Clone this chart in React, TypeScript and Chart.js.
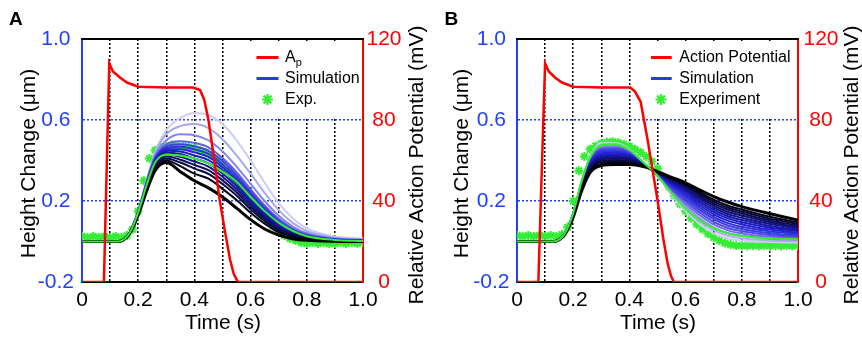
import React, { useEffect, useRef } from 'react';
import { Chart, registerables } from 'chart.js';

Chart.register(...registerables);

// ---------- data ----------
const TIME = [0, 0.13, 0.17, 0.2, 0.23, 0.26, 0.3, 0.35, 0.4, 0.45, 0.5, 0.55, 0.6, 0.65, 0.7, 0.75, 0.8, 0.9, 1.0];

const X_TICKS = [0, 0.1, 0.2, 0.3, 0.4, 0.5, 0.6, 0.7, 0.8, 0.9, 1.0];
const X_LABELS = ['0', '', '0.2', '', '0.4', '', '0.6', '', '0.8', '', '1.0'];
const Y_LEFT_TICKS = [-0.2, 0.2, 0.6, 1.0];
const Y_LEFT_LABELS = ['-0.2', '0.2', '0.6', '1.0'];
const Y_RIGHT_TICKS = [0, 40, 80, 120];
const Y_RIGHT_LABELS = ['0', '40', '80', '120'];

// Action potential (mV) for panel A
const AP_A_TIME = [0, 0.078, 0.097, 0.11, 0.135, 0.16, 0.2, 0.3, 0.395, 0.42, 0.435, 0.45, 0.47, 0.49, 0.51, 0.527, 0.54, 0.555, 1.0];
const AP_A = [0, 0, 108, 104, 101, 98.5, 96.4, 96, 96, 94.8, 90, 80, 61, 40.5, 24, 11, 4, 0, 0];
// Action potential (mV) for panel B
const AP_B_TIME = [0, 0.076, 0.1, 0.113, 0.135, 0.16, 0.2, 0.3, 0.403, 0.42, 0.44, 0.465, 0.5, 0.52, 0.536, 0.548, 0.558, 1.0];
const AP_B = [0, 0, 108, 104, 101, 98.5, 96.4, 96, 96, 94, 89, 70, 40.5, 22, 9.2, 3, 0, 0];

// Simulation curves, panel A (lightest first, black last)
const SIM_A1 = [0, 0, 0.045, 0.15, 0.3, 0.44, 0.55, 0.61, 0.635, 0.625, 0.58, 0.5, 0.4, 0.29, 0.19, 0.115, 0.065, 0.025, 0.015];
const SIM_A2 = [0, 0, 0.045, 0.15, 0.3, 0.435, 0.53, 0.57, 0.58, 0.56, 0.505, 0.425, 0.335, 0.24, 0.155, 0.092, 0.052, 0.019, 0.011];
const SIM_A3 = [0, 0, 0.045, 0.15, 0.295, 0.425, 0.5, 0.53, 0.525, 0.5, 0.445, 0.37, 0.285, 0.2, 0.127, 0.074, 0.041, 0.015, 0.008];
const SIM_A4 = [0, 0, 0.045, 0.149, 0.292, 0.415, 0.48, 0.495, 0.487, 0.465, 0.412, 0.342, 0.258, 0.178, 0.112, 0.064, 0.035, 0.012, 0.006];
const SIM_A5 = [0, 0, 0.044, 0.148, 0.288, 0.41, 0.47, 0.48, 0.47, 0.448, 0.397, 0.328, 0.246, 0.168, 0.104, 0.059, 0.032, 0.011, 0.005];
const SIM_A6 = [0, 0, 0.044, 0.147, 0.285, 0.405, 0.462, 0.468, 0.455, 0.433, 0.382, 0.315, 0.235, 0.159, 0.097, 0.054, 0.029, 0.01, 0.005];
const SIM_A7 = [0, 0, 0.044, 0.146, 0.282, 0.4, 0.455, 0.455, 0.44, 0.418, 0.367, 0.301, 0.223, 0.15, 0.09, 0.05, 0.027, 0.009, 0.004];
const SIM_A8 = [0, 0, 0.043, 0.145, 0.279, 0.395, 0.448, 0.444, 0.425, 0.402, 0.352, 0.287, 0.211, 0.141, 0.083, 0.046, 0.025, 0.008, 0.004];
const SIM_A9 = [0, 0, 0.043, 0.143, 0.276, 0.39, 0.44, 0.432, 0.41, 0.386, 0.336, 0.273, 0.199, 0.132, 0.076, 0.042, 0.022, 0.007, 0.003];
const SIM_A10 = [0, 0, 0.042, 0.141, 0.272, 0.385, 0.43, 0.418, 0.395, 0.37, 0.32, 0.258, 0.186, 0.122, 0.069, 0.038, 0.02, 0.006, 0.003];
const SIM_A11 = [0, 0, 0.042, 0.139, 0.268, 0.378, 0.42, 0.404, 0.378, 0.352, 0.302, 0.243, 0.173, 0.112, 0.062, 0.034, 0.018, 0.005, 0.002];
const SIM_A12 = [0, 0, 0.041, 0.137, 0.264, 0.37, 0.41, 0.39, 0.36, 0.334, 0.284, 0.227, 0.159, 0.101, 0.054, 0.029, 0.015, 0.004, 0.002];
const SIM_A13 = [0, 0, 0.041, 0.134, 0.258, 0.36, 0.4, 0.372, 0.335, 0.31, 0.26, 0.205, 0.142, 0.088, 0.046, 0.024, 0.012, 0.003, 0.001];
const SIM_A14 = [0, 0, 0.04, 0.13, 0.25, 0.35, 0.39, 0.345, 0.3, 0.265, 0.22, 0.165, 0.108, 0.062, 0.032, 0.014, 0.006, 0.001, 0];
const SIM_A = [SIM_A1, SIM_A2, SIM_A3, SIM_A4, SIM_A5, SIM_A6, SIM_A7, SIM_A8, SIM_A9, SIM_A10, SIM_A11, SIM_A12, SIM_A13, SIM_A14];
const GREEN_A = [0, 0, 0.043, 0.145, 0.278, 0.39, 0.428, 0.425, 0.41, 0.385, 0.345, 0.295, 0.22, 0.15, 0.093, 0.052, 0.026, 0.008, 0.003];

// Simulation curves, panel B (lightest first, black last)
const SIM_B1 = [0, 0, 0.04, 0.14, 0.3, 0.42, 0.488, 0.486, 0.455, 0.39, 0.32, 0.23, 0.15, 0.085, 0.04, 0.015, 0.005, -0.003, -0.005];
const SIM_B2 = [0, 0, 0.04, 0.14, 0.297, 0.415, 0.478, 0.48, 0.451, 0.389, 0.323, 0.238, 0.163, 0.1, 0.055, 0.028, 0.016, 0.005, 0.002];
const SIM_B3 = [0, 0, 0.04, 0.139, 0.294, 0.41, 0.47, 0.473, 0.447, 0.388, 0.325, 0.246, 0.176, 0.115, 0.07, 0.042, 0.028, 0.014, 0.009];
const SIM_B4 = [0, 0, 0.04, 0.138, 0.29, 0.405, 0.462, 0.466, 0.443, 0.387, 0.327, 0.254, 0.188, 0.13, 0.084, 0.055, 0.04, 0.023, 0.016];
const SIM_B5 = [0, 0, 0.039, 0.137, 0.287, 0.4, 0.455, 0.459, 0.439, 0.386, 0.329, 0.261, 0.2, 0.143, 0.097, 0.067, 0.051, 0.032, 0.023];
const SIM_B6 = [0, 0, 0.039, 0.136, 0.284, 0.395, 0.448, 0.452, 0.435, 0.385, 0.331, 0.268, 0.211, 0.156, 0.11, 0.079, 0.062, 0.041, 0.03];
const SIM_B7 = [0, 0, 0.039, 0.135, 0.281, 0.39, 0.441, 0.445, 0.43, 0.384, 0.333, 0.275, 0.222, 0.168, 0.122, 0.091, 0.073, 0.05, 0.037];
const SIM_B8 = [0, 0, 0.038, 0.134, 0.278, 0.385, 0.434, 0.438, 0.426, 0.383, 0.335, 0.281, 0.232, 0.179, 0.134, 0.103, 0.084, 0.059, 0.044];
const SIM_B9 = [0, 0, 0.038, 0.133, 0.275, 0.38, 0.427, 0.431, 0.421, 0.382, 0.337, 0.287, 0.242, 0.19, 0.145, 0.114, 0.095, 0.068, 0.051];
const SIM_B10 = [0, 0, 0.038, 0.132, 0.272, 0.375, 0.42, 0.424, 0.416, 0.381, 0.338, 0.293, 0.251, 0.2, 0.156, 0.125, 0.106, 0.077, 0.058];
const SIM_B11 = [0, 0, 0.037, 0.13, 0.269, 0.37, 0.413, 0.417, 0.411, 0.38, 0.339, 0.298, 0.259, 0.21, 0.167, 0.136, 0.117, 0.086, 0.065];
const SIM_B12 = [0, 0, 0.037, 0.129, 0.266, 0.365, 0.406, 0.41, 0.405, 0.378, 0.34, 0.303, 0.267, 0.219, 0.177, 0.147, 0.128, 0.095, 0.072];
const SIM_B13 = [0, 0, 0.037, 0.127, 0.263, 0.36, 0.399, 0.403, 0.399, 0.376, 0.341, 0.307, 0.274, 0.228, 0.187, 0.158, 0.138, 0.104, 0.079];
const SIM_B14 = [0, 0, 0.036, 0.125, 0.26, 0.355, 0.392, 0.396, 0.393, 0.374, 0.342, 0.311, 0.28, 0.236, 0.197, 0.168, 0.148, 0.113, 0.086];
const SIM_B15 = [0, 0, 0.036, 0.123, 0.256, 0.348, 0.384, 0.389, 0.387, 0.372, 0.343, 0.314, 0.285, 0.244, 0.207, 0.178, 0.158, 0.122, 0.094];
const SIM_B16 = [0, 0, 0.035, 0.12, 0.25, 0.34, 0.375, 0.38, 0.38, 0.37, 0.345, 0.317, 0.29, 0.255, 0.222, 0.195, 0.172, 0.137, 0.106];
const SIM_B = [SIM_B1, SIM_B2, SIM_B3, SIM_B4, SIM_B5, SIM_B6, SIM_B7, SIM_B8, SIM_B9, SIM_B10, SIM_B11, SIM_B12, SIM_B13, SIM_B14, SIM_B15, SIM_B16];
const GREEN_B = [0, 0, 0.04, 0.14, 0.298, 0.415, 0.475, 0.48, 0.452, 0.39, 0.325, 0.24, 0.16, 0.105, 0.065, 0.04, 0.027, 0.015, 0.011];

// Experiment markers (every 0.02 s)
const EXP_TIME = [0, 0.02, 0.04, 0.06, 0.08, 0.1, 0.12, 0.14, 0.16, 0.18, 0.2, 0.22, 0.24, 0.26, 0.28, 0.3, 0.32, 0.34, 0.36, 0.38, 0.4, 0.42, 0.44, 0.46, 0.48, 0.5, 0.52, 0.54, 0.56, 0.58, 0.6, 0.62, 0.64, 0.66, 0.68, 0.7, 0.72, 0.74, 0.76, 0.78, 0.8, 0.82, 0.84, 0.86, 0.88, 0.9, 0.92, 0.94, 0.96, 0.98, 1.0];
const EXP_A = [0.025, 0.02, 0.025, 0.02, 0.025, 0.02, 0.025, 0.02, 0.03, 0.06, 0.15, 0.3, 0.41, 0.45, 0.465, 0.47, 0.475, 0.47, 0.47, 0.465, 0.46, 0.45, 0.44, 0.425, 0.405, 0.38, 0.35, 0.315, 0.28, 0.24, 0.2, 0.165, 0.13, 0.1, 0.075, 0.05, 0.03, 0.015, 0.005, -0.005, -0.01, -0.005, -0.01, -0.005, -0.01, -0.01, -0.005, -0.01, -0.005, -0.01, -0.005];
const EXP_B = [0.03, 0.025, 0.03, 0.025, 0.03, 0.025, 0.03, 0.025, 0.035, 0.07, 0.2, 0.35, 0.42, 0.455, 0.472, 0.483, 0.49, 0.493, 0.488, 0.48, 0.47, 0.455, 0.44, 0.42, 0.395, 0.36, 0.315, 0.27, 0.225, 0.185, 0.15, 0.115, 0.085, 0.06, 0.038, 0.02, 0.005, -0.008, -0.015, -0.02, -0.02, -0.022, -0.02, -0.022, -0.02, -0.022, -0.02, -0.022, -0.02, -0.022, -0.02];

const LEGEND_A = ['A', 'Simulation', 'Exp.'];
const LEGEND_B = ['Action Potential', 'Simulation', 'Experiment'];

// ---------- styles ----------
const BLUE = '#2040ff';
const RED = '#ff0000';
const GREEN = '#33ee33';
const FONT = "'Liberation Sans', Arial, Helvetica, sans-serif";
const W = 431;
const H = 337;

function simColor(i: number, n: number): string {
  const f = n > 1 ? i / (n - 1) : 0;
  const stops = [
    [0, 205, 205, 243],
    [0.28, 70, 70, 228],
    [0.5, 30, 30, 210],
    [1, 0, 0, 0],
  ];
  for (let k = 0; k < stops.length - 1; k++) {
    const a = stops[k];
    const b = stops[k + 1];
    if (f <= b[0] + 1e-9) {
      const g = (f - a[0]) / (b[0] - a[0]);
      const c = [1, 2, 3].map((j) => Math.round(a[j] + (b[j] - a[j]) * g));
      return `rgb(${c[0]},${c[1]},${c[2]})`;
    }
  }
  return '#000';
}

interface PanelSpec {
  letter: string;
  letterX: number;
  sims: number[][];
  green: number[];
  exp: number[];
  apT: number[];
  apV: number[];
  legend: string[];
  subscriptFirst: boolean;
  leftW: number;
  rightW: number;
  leftPad: number;
  rightPad: number;
  leftTitleX: number;
  rightTitleX: number;
  boxX: number;
  boxW: number;
  lineX0: number;
  lineX1: number;
  textX: number;
  starX: number;
}

function pts(xs: number[], ys: number[]) {
  return xs.map((x, i) => ({ x, y: ys[i] }));
}

function drawStar(ctx: CanvasRenderingContext2D, x: number, y: number, r: number) {
  ctx.beginPath();
  for (let k = 0; k < 4; k++) {
    const a = (k * Math.PI) / 4;
    ctx.moveTo(x + Math.cos(a) * r, y + Math.sin(a) * r);
    ctx.lineTo(x - Math.cos(a) * r, y - Math.sin(a) * r);
  }
  ctx.stroke();
}

function makeDecor(spec: PanelSpec) {
  return {
    id: 'decor' + spec.letter,
    beforeDatasetsDraw(chart: any) {
      const ctx: CanvasRenderingContext2D = chart.ctx;
      ctx.save();
      ctx.fillStyle = '#ffffff';
      ctx.fillRect(spec.boxX, 42, spec.boxW, 75);
      ctx.restore();
    },
    afterDatasetsDraw(chart: any) {
      const ctx: CanvasRenderingContext2D = chart.ctx;
      const rows = [57.5, 78.5, 99.5];
      ctx.save();
      ctx.lineCap = 'butt';
      ctx.strokeStyle = RED;
      ctx.lineWidth = 3;
      ctx.beginPath();
      ctx.moveTo(spec.lineX0, rows[0]);
      ctx.lineTo(spec.lineX1, rows[0]);
      ctx.stroke();
      ctx.strokeStyle = '#1f3de8';
      ctx.beginPath();
      ctx.moveTo(spec.lineX0, rows[1]);
      ctx.lineTo(spec.lineX1, rows[1]);
      ctx.stroke();
      ctx.strokeStyle = GREEN;
      ctx.lineWidth = 2.2;
      drawStar(ctx, spec.starX, rows[2], 5.5);
      ctx.fillStyle = '#000';
      ctx.textBaseline = 'middle';
      ctx.textAlign = 'left';
      ctx.font = `16px ${FONT}`;
      ctx.fillText(spec.legend[0], spec.textX, rows[0]);
      if (spec.subscriptFirst) {
        const w = ctx.measureText(spec.legend[0]).width;
        ctx.font = `11px ${FONT}`;
        ctx.fillText('p', spec.textX + w, rows[0] + 5);
        ctx.font = `16px ${FONT}`;
      }
      ctx.fillText(spec.legend[1], spec.textX, rows[1]);
      ctx.fillText(spec.legend[2], spec.textX, rows[2]);
      ctx.restore();
    },
    afterDraw(chart: any) {
      const ctx: CanvasRenderingContext2D = chart.ctx;
      const ca = chart.chartArea;
      ctx.save();
      ctx.strokeStyle = '#000';
      ctx.lineWidth = 2;
      ctx.beginPath();
      ctx.moveTo(ca.left - 1, ca.top);
      ctx.lineTo(ca.right + 1, ca.top);
      ctx.stroke();
      ctx.fillStyle = '#000';
      ctx.textAlign = 'left';
      ctx.textBaseline = 'alphabetic';
      ctx.font = `bold 19px ${FONT}`;
      ctx.fillText(spec.letter, spec.letterX, 24.5);
      ctx.font = `21px ${FONT}`;
      ctx.textAlign = 'center';
      ctx.fillText('Time (s)', (ca.left + ca.right) / 2 + 0.5, 329);
      ctx.save();
      ctx.translate(spec.leftTitleX, 163.5);
      ctx.rotate(-Math.PI / 2);
      ctx.fillText('Height Change (μm)', 0, 0);
      ctx.restore();
      ctx.save();
      ctx.translate(spec.rightTitleX, 165);
      ctx.rotate(-Math.PI / 2);
      ctx.fillText('Relative Action Potential (mV)', 0, 0);
      ctx.restore();
      ctx.restore();
    },
  };
}

function buildConfig(spec: PanelSpec): any {
  const n = spec.sims.length;
  const datasets: any[] = [];
  datasets.push({
    label: 'AP',
    data: pts(spec.apT, spec.apV),
    yAxisID: 'y2',
    borderColor: RED,
    borderWidth: 2.5,
    pointRadius: 0,
    tension: 0,
    order: 0,
  });
  datasets.push({
    label: 'Fit',
    data: pts(TIME, spec.green),
    yAxisID: 'y',
    borderColor: GREEN,
    borderWidth: 2,
    pointRadius: 0,
    cubicInterpolationMode: 'monotone',
    order: 1,
  });
  spec.sims.forEach((s, i) => {
    datasets.push({
      label: 'Sim ' + (i + 1),
      data: pts(TIME, s),
      yAxisID: 'y',
      borderColor: simColor(i, n),
      borderWidth: i === n - 1 ? 3 : 2,
      pointRadius: 0,
      cubicInterpolationMode: 'monotone',
      order: 2 + (n - 1 - i),
    });
  });
  datasets.push({
    label: 'Experiment',
    data: pts(EXP_TIME, spec.exp),
    yAxisID: 'y',
    showLine: false,
    pointStyle: 'star',
    pointRadius: 4.5,
    pointBorderWidth: 2,
    pointBorderColor: GREEN,
    pointBackgroundColor: GREEN,
    order: 200,
  });

  const tickFont = { size: 21, family: FONT };
  const clear = 'rgba(0,0,0,0)';

  return {
    type: 'line',
    data: { datasets },
    options: {
      responsive: false,
      animation: false,
      devicePixelRatio: 1,
      layout: { padding: { top: 39, left: 0, right: 0, bottom: 0 } },
      plugins: { legend: { display: false }, tooltip: { enabled: false } },
      scales: {
        x: {
          type: 'linear',
          min: 0,
          max: 1,
          afterBuildTicks: (s: any) => {
            s.ticks = X_TICKS.map((v) => ({ value: v }));
          },
          afterFit: (s: any) => {
            s.height = 55;
          },
          ticks: {
            autoSkip: false,
            maxRotation: 0,
            minRotation: 0,
            padding: 6,
            color: '#000',
            font: tickFont,
            callback: (_v: any, i: number) => X_LABELS[i],
          },
          grid: {
            drawTicks: false,
            lineWidth: 1.5,
            color: (c: any) => (c.index === 0 || c.index === X_TICKS.length - 1 ? clear : '#000'),
          },
          border: { display: true, color: '#000', width: 2, dash: [2, 2] },
        },
        y: {
          type: 'linear',
          position: 'left',
          min: -0.2,
          max: 1.0,
          afterBuildTicks: (s: any) => {
            s.ticks = Y_LEFT_TICKS.map((v) => ({ value: v }));
          },
          afterFit: (s: any) => {
            s.width = spec.leftW;
          },
          ticks: {
            crossAlign: 'center',
            padding: spec.leftPad,
            color: BLUE,
            font: tickFont,
            callback: (_v: any, i: number) => Y_LEFT_LABELS[i],
          },
          grid: {
            drawTicks: false,
            lineWidth: 1.5,
            color: (c: any) => (c.index === 0 || c.index === Y_LEFT_TICKS.length - 1 ? clear : BLUE),
          },
          border: { display: true, color: BLUE, width: 2, dash: [2, 2] },
        },
        y2: {
          type: 'linear',
          position: 'right',
          min: 0,
          max: 120,
          afterBuildTicks: (s: any) => {
            s.ticks = Y_RIGHT_TICKS.map((v) => ({ value: v }));
          },
          afterFit: (s: any) => {
            s.width = spec.rightW;
          },
          ticks: {
            crossAlign: 'center',
            padding: spec.rightPad,
            color: RED,
            font: tickFont,
            callback: (_v: any, i: number) => Y_RIGHT_LABELS[i],
          },
          grid: { display: false, drawTicks: false },
          border: { display: true, color: RED, width: 2 },
        },
      },
    },
    plugins: [makeDecor(spec)],
  };
}

const SPEC_A: PanelSpec = {
  letter: 'A',
  letterX: 9,
  sims: SIM_A,
  green: GREEN_A,
  exp: EXP_A,
  apT: AP_A_TIME,
  apV: AP_A,
  legend: LEGEND_A,
  subscriptFirst: true,
  leftW: 82,
  rightW: 68,
  leftPad: 8,
  rightPad: 3.5,
  leftTitleX: 35,
  rightTitleX: 423,
  boxX: 248,
  boxW: 114,
  lineX0: 256.5,
  lineX1: 278.5,
  textX: 285,
  starX: 267.5,
};

const SPEC_B: PanelSpec = {
  letter: 'B',
  letterX: 13.5,
  sims: SIM_B,
  green: GREEN_B,
  exp: EXP_B,
  apT: AP_B_TIME,
  apV: AP_B,
  legend: LEGEND_B,
  subscriptFirst: false,
  leftW: 86,
  rightW: 64,
  leftPad: 7.5,
  rightPad: 5.5,
  leftTitleX: 37,
  rightTitleX: 427,
  boxX: 212,
  boxW: 154,
  lineX0: 220,
  lineX1: 240.7,
  textX: 248.3,
  starX: 230,
};

function Panel({ spec }: { spec: PanelSpec }) {
  const ref = useRef<HTMLCanvasElement | null>(null);
  useEffect(() => {
    if (!ref.current) return;
    const chart = new Chart(ref.current, buildConfig(spec));
    return () => {
      chart.destroy();
    };
  }, [spec]);
  return <canvas ref={ref} width={W} height={H} style={{ display: 'block', width: W, height: H }} />;
}

export default function App() {
  return (
    <div
      style={{
        position: 'absolute',
        left: 0,
        top: 0,
        width: 862,
        height: 337,
        display: 'flex',
        background: '#ffffff',
        overflow: 'hidden',
      }}
    >
      <Panel spec={SPEC_A} />
      <Panel spec={SPEC_B} />
    </div>
  );
}
